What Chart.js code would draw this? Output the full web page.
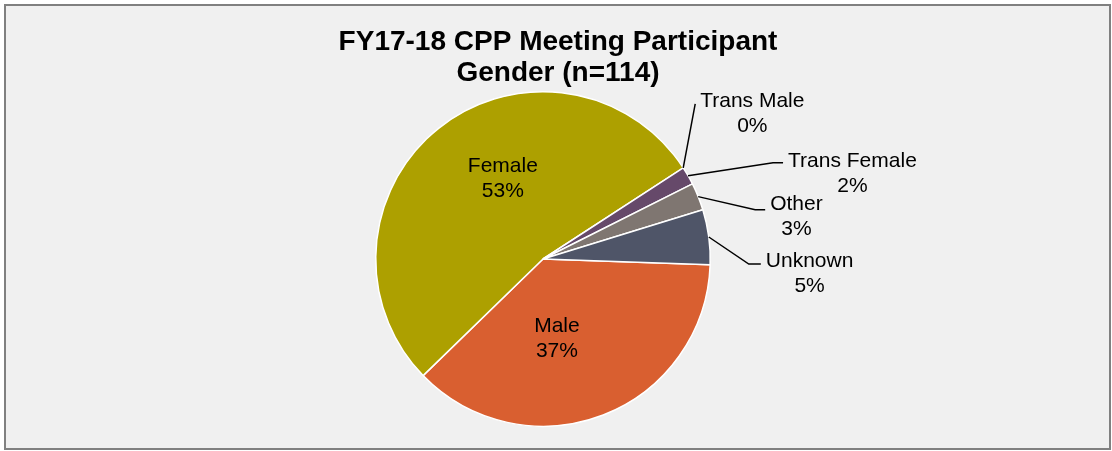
<!DOCTYPE html>
<html>
<head>
<meta charset="utf-8">
<script src="https://cdn.jsdelivr.net/npm/chart.js@4/dist/chart.umd.min.js"></script>
<style>
  html, body { margin: 0; padding: 0; background: #ffffff; }
  #wrap { position: absolute; left: 4px; top: 4px; width: 1107px; height: 446px;
          box-sizing: border-box; border: 2px solid #808080; background: #f0f0f0; }
  #c { display: block; }
</style>
</head>
<body>
<div id="wrap"><canvas id="c" width="1103" height="442"></canvas></div>
<script>
// ---- data ----
const categories = ["Male", "Female", "Trans Male", "Trans Female", "Other", "Unknown"];
const counts = [42, 60, 0, 2, 3, 6];
const colors = ["#D95F30", "#ADA000", "#6A3F6B", "#66496A", "#7F7671", "#4F5568"];
const titleLines = ["FY17-18 CPP Meeting Participant", "Gender (n=114)"];

// label layout (style/position config)
const FONT = '"Liberation Sans", Arial, sans-serif';
const labelCfg = {
  "Male":        { inside: true, frac: 0.583, rfrac: 0.48 },
  "Female":      { inside: true, frac: 0.564, rfrac: 0.54 },
  "Trans Male":  { inside: false, ex: 12, ey: -64, hx: 0,  ty: -3 },
  "Trans Female":{ inside: false, ex: 85, ey: -13, hx: 10, ty: -2 },
  "Other":       { inside: false, ex: 57, ey: 13,  hx: 10, ty: -5 },
  "Unknown":     { inside: false, ex: 40, ey: 27,  hx: 12, ty: -3 }
};

const labelPlugin = {
  id: 'labelPlugin',
  afterDatasetsDraw(chart) {
    const ctx = chart.ctx;
    const meta = chart.getDatasetMeta(0);
    const data = chart.data.datasets[0].data;
    const total = data.reduce((a, b) => a + b, 0);
    ctx.save();
    ctx.font = '21px ' + FONT;
    ctx.fillStyle = '#000';
    ctx.textBaseline = 'middle';
    ctx.textAlign = 'center';
    meta.data.forEach((arc, i) => {
      const name = chart.data.labels[i];
      const cfg = labelCfg[name];
      const pct = Math.round(data[i] / total * 100) + '%';
      const p = arc.getProps(['x', 'y', 'startAngle', 'endAngle', 'outerRadius'], true);
      if (cfg.inside) {
        const a = p.startAngle + (p.endAngle - p.startAngle) * cfg.frac;
        const r = p.outerRadius * cfg.rfrac;
        const cx = p.x + Math.cos(a) * r, cy = p.y + Math.sin(a) * r;
        ctx.fillText(name, cx, cy - 12);
        ctx.fillText(pct, cx, cy + 13);
      } else {
        const a = (p.startAngle + p.endAngle) / 2;
        const ax = p.x + Math.cos(a) * p.outerRadius, ay = p.y + Math.sin(a) * p.outerRadius;
        const bx = ax + cfg.ex, by = ay + cfg.ey;
        const endx = bx + cfg.hx;
        ctx.strokeStyle = '#000';
        ctx.lineWidth = 1.5;
        ctx.beginPath();
        ctx.moveTo(ax, ay); ctx.lineTo(bx, by); ctx.lineTo(endx, by);
        ctx.stroke();
        const w = Math.max(ctx.measureText(name).width, ctx.measureText(pct).width);
        const left = endx + 5;
        const cx = left + w / 2;
        const y1 = by + cfg.ty;
        ctx.fillText(name, cx, y1);
        ctx.fillText(pct, cx, y1 + 25);
      }
    });
    // title
    ctx.font = 'bold 28px ' + FONT;
    ctx.fillText(titleLines[0], 552, 36);
    ctx.fillText(titleLines[1], 552, 67);
    ctx.restore();
  }
};

new Chart(document.getElementById('c'), {
  type: 'pie',
  data: {
    labels: categories,
    datasets: [{
      data: counts,
      backgroundColor: colors,
      borderColor: '#ffffff',
      borderWidth: 1.5
    }]
  },
  options: {
    responsive: false,
    animation: false,
    rotation: 92,
    layout: { padding: { top: 85, bottom: 21, left: 369, right: 398 } },
    plugins: {
      legend: { display: false },
      title: { display: false },
      tooltip: { enabled: false }
    }
  },
  plugins: [labelPlugin]
});
</script>
</body>
</html>
